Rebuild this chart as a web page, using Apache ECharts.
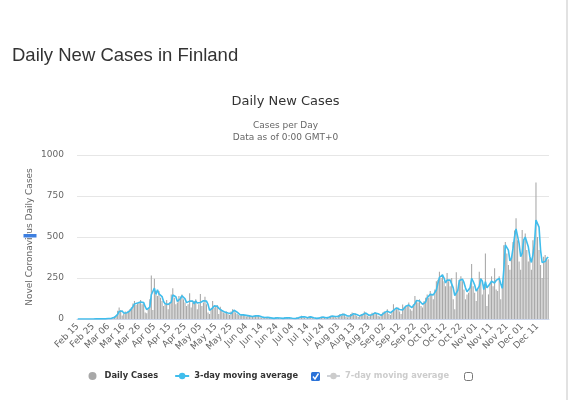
<!DOCTYPE html>
<html>
<head>
<meta charset="utf-8">
<script src="https://cdn.jsdelivr.net/npm/echarts@6.0.0/dist/echarts.min.js"></script>
<style>
html,body{margin:0;padding:0;background:#fff;}
#chart{width:571px;height:400px;}
</style>
</head>
<body>
<div id="chart"></div>
<script>
// Date categories (Feb 15 – Dec 18)
const monthSpans = [['Feb',15,29],['Mar',1,31],['Apr',1,30],['May',1,31],['Jun',1,30],['Jul',1,31],['Aug',1,31],['Sep',1,30],['Oct',1,31],['Nov',1,30],['Dec',1,18]];
const yTicks = [0, 250, 500, 750, 1000];

// Daily new cases, per month
const casesFeb = [0,0,0,0,0,0,0,0,0,0,0,1,0,1,0];
const casesMar = [2,1,1,2,4,3,4,6,8,15,18,50,70,55,22,30,45,40,50,60,70,95,110,85,95,100,116,90,95,40,35];
const casesApr = [60,120,265,55,245,150,140,170,130,110,80,90,116,60,100,150,187,130,90,100,140,136,150,120,100,80,90,157,70,100];
const casesMay = [110,120,60,90,152,80,100,136,90,40,30,60,110,70,80,85,30,75,50,40,35,45,30,25,45,60,55,40,30,25,20];
const casesJun = [25,30,20,15,25,18,12,15,20,22,18,20,10,8,6,12,10,8,9,5,4,3,10,8,6,5,4,3,10,8];
const casesJul = [10,6,5,3,2,4,10,8,12,20,15,8,5,12,18,10,8,5,4,3,6,12,14,10,6,5,10,15,20,18,15];
const casesAug = [12,8,25,30,22,35,28,15,10,20,30,40,25,35,20,12,25,30,28,45,35,20,15,25,38,30,42,35,20,15,30];
const casesSep = [40,45,38,60,30,25,45,90,55,60,70,45,30,89,70,75,80,100,60,50,90,140,110,100,120,80,70,110,130,150];
const casesOct = [130,170,150,120,180,230,240,288,250,270,230,200,280,230,200,250,120,60,285,180,240,260,230,180,120,150,160,190,335,200,160];
const casesNov = [110,180,288,250,150,210,400,80,150,220,260,200,309,180,170,260,120,210,450,470,400,330,300,380,470,540,614,480,350,300];
const casesDec = [543,480,522,420,350,370,300,480,500,833,500,420,330,250,380,390,360,365];

// 3-day moving average, per month
const maFeb = [0,0,0,0,0,0,0,0,0,0,0,0,1,1,1];
const maMar = [1,1,1,1,2,3,4,4,6,10,14,28,46,58,49,36,32,38,45,50,60,75,92,97,97,93,104,102,100,75,57];
const maApr = [45,72,148,147,188,150,178,153,147,137,107,93,95,89,92,103,146,156,136,107,110,125,142,135,123,100,90,109,106,109];
const maMay = [93,110,97,90,101,107,111,105,109,89,53,43,67,80,87,78,65,63,52,55,42,40,37,33,33,43,53,52,42,32,25];
const maJun = [23,25,25,22,20,19,18,15,16,19,20,20,16,13,8,9,9,10,9,7,6,4,6,7,8,6,5,4,6,7];
const maJul = [9,8,7,5,3,3,5,7,10,13,16,14,9,8,12,13,12,8,6,4,4,7,11,12,10,7,7,10,15,18,18];
const maAug = [15,12,15,21,26,29,28,26,18,15,20,30,32,33,27,22,19,22,28,34,36,33,23,20,26,31,37,36,32,23,22];
const maSep = [28,38,41,48,43,38,33,53,63,68,62,58,48,55,63,78,75,85,80,70,67,93,113,117,110,100,90,87,103,130];
const maOct = [137,150,150,147,150,177,217,253,259,269,250,220,237,240,237,227,190,143,155,175,235,235,243,223,190,166,160,190,248,230,207];
const maNov = [170,166,200,245,230,180,228,190,200,215,230,225,220,235,240,248,215,187,300,451,445,420,355,370,430,500,550,540,460,380];
const maDec = [400,482,500,470,440,380,345,390,460,604,612,560,420,345,340,350,370,378];

const categories = [];
monthSpans.forEach(([m, a, b]) => { for (let d = a; d <= b; d++) categories.push(m + ' ' + String(d).padStart(2, '0')); });
const dailyCases = [].concat(casesFeb, casesMar, casesApr, casesMay, casesJun, casesJul, casesAug, casesSep, casesOct, casesNov, casesDec);
const movingAvg3 = [].concat(maFeb, maMar, maApr, maMay, maJun, maJul, maAug, maSep, maOct, maNov, maDec);

const FONT = 'DejaVu Sans';
const chart = echarts.init(document.getElementById('chart'), null, {renderer: 'canvas'});
chart.setOption({
  animation: false,
  backgroundColor: '#fff',
  textStyle: {fontFamily: FONT},
  title: [
    {text: 'Daily New Cases in Finland', left: 12, top: 46, padding: 0,
     textStyle: {fontFamily: 'Liberation Sans', fontSize: 18.5, fontWeight: 'normal', color: '#333'}},
    {text: 'Daily New Cases', left: 'center', top: 95, padding: 0,
     textStyle: {fontFamily: FONT, fontSize: 13, fontWeight: 'normal', color: '#333'}},
    {text: 'Cases per Day\nData as of 0:00 GMT+0', left: 'center', top: 120, padding: 0,
     textStyle: {fontFamily: FONT, fontSize: 9, fontWeight: 'normal', color: '#666', lineHeight: 12}}
  ],
  grid: {left: 77, right: 22, top: 155, bottom: 81, containLabel: false},
  legend: [
    {data: [{name: 'Daily Cases', icon: 'circle'}, {name: '3-day moving average'}], left: 88.5, top: 372, padding: 0,
     itemWidth: 14, itemHeight: 8, itemGap: 16,
     textStyle: {fontFamily: FONT, fontSize: 8.3, fontWeight: 'bold', color: '#333'}},
    {data: ['7-day moving average'], left: 326, top: 372, padding: 0, itemWidth: 13, itemHeight: 8,
     selected: {'7-day moving average': false}, inactiveColor: '#cccccc',
     textStyle: {fontFamily: FONT, fontSize: 8.3, fontWeight: 'bold', color: '#333'}}
  ],
  xAxis: {
    type: 'category', data: categories, boundaryGap: true,
    axisTick: {show: false},
    axisLine: {lineStyle: {color: '#ccd6eb'}},
    axisLabel: {interval: 9, rotate: 45, fontSize: 9, color: '#666', margin: 6, fontFamily: FONT}
  },
  yAxis: {
    type: 'value', min: yTicks[0], max: yTicks[yTicks.length - 1], interval: 250,
    name: 'Novel Coronavirus Daily Cases', nameLocation: 'middle', nameGap: 43, nameMoveOverlap: false,
    nameTextStyle: {color: '#666', fontSize: 9, fontFamily: FONT},
    axisLabel: {fontSize: 9, color: '#666', margin: 13, fontFamily: FONT, formatter: v => String(v)},
    axisLine: {show: false}, axisTick: {show: false},
    splitLine: {lineStyle: {color: '#e6e6e6'}}
  },
  series: [
    {name: 'Daily Cases', type: 'bar', data: dailyCases, barWidth: '70%',
     itemStyle: {color: '#a8a8a8'}},
    {name: '3-day moving average', type: 'line', data: movingAvg3, symbol: 'circle', symbolSize: 6, showSymbol: false,
     lineStyle: {color: '#40bdec', width: 1.6}, itemStyle: {color: '#40bdec'}, z: 5},
    {name: '7-day moving average', type: 'line', data: [], symbol: 'circle', showSymbol: false,
     lineStyle: {color: '#999'}, itemStyle: {color: '#999'}}
  ],
  graphic: [
    {type: 'rect', shape: {x: 311, y: 372, width: 9, height: 9, r: 1.5}, style: {fill: '#2a72d8'}},
    {type: 'polyline', shape: {points: [[313, 376.5], [315, 379], [318.5, 373.5]]}, style: {stroke: '#fff', lineWidth: 1.4, fill: null}},
    {type: 'rect', shape: {x: 464.5, y: 372.5, width: 8, height: 8, r: 2}, style: {fill: '#fff', stroke: '#777', lineWidth: 1}},
    {type: 'line', shape: {x1: 567, y1: 0, x2: 567, y2: 400}, style: {stroke: '#e2e2e2', lineWidth: 2}},
    {type: 'rect', shape: {x: 23.5, y: 234, width: 13, height: 3.5}, style: {fill: '#3d7fe0'}, z: 100}
  ]
});
</script>
</body>
</html>
